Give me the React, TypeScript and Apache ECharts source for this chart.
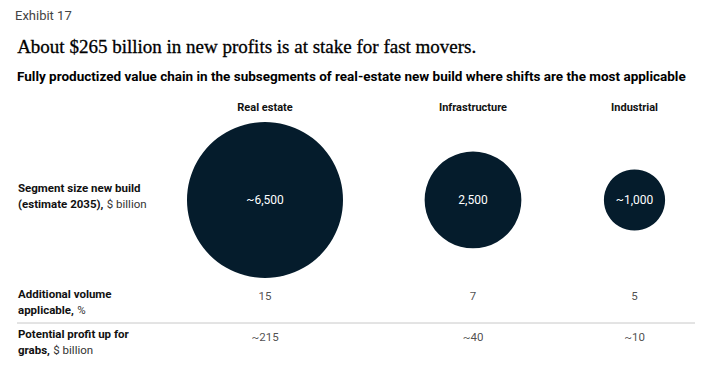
import React, { useEffect, useRef } from "react";
import * as echarts from "echarts";

const categories = ["Real estate", "Infrastructure", "Industrial"];
const segmentSize = [6500, 2500, 1000];
const segmentApprox = [true, false, true];
const additionalVolume = [15, 7, 5];
const potentialProfit = [215, 40, 10];
const profitApprox = [true, true, true];

const columnCenters = [265, 473, 645];
const NAVY = "#051C2C";
const FONT = "Roboto, 'Liberation Sans', Arial, sans-serif";
const R_MAX = 78;

const fmt = (v: number, approx: boolean) =>
  (approx ? "~" : "") + v.toLocaleString("en-US");

export default function App() {
  const ref = useRef<HTMLDivElement>(null);
  useEffect(() => {
    if (!ref.current) return;
    const chart = echarts.init(ref.current, null, { renderer: "svg" });
    const maxSize = Math.max(...segmentSize);
    const grids: any[] = [];
    const xAxes: any[] = [];
    const yAxes: any[] = [];
    const series: any[] = [];
    categories.forEach((cat, i) => {
      grids.push({ left: columnCenters[i] - 80, width: 160, top: 120, height: 160 });
      xAxes.push({
        gridIndex: i,
        type: "category",
        data: [cat],
        position: "top",
        axisLine: { show: false },
        axisTick: { show: false },
        splitLine: { show: false },
        axisLabel: { fontFamily: FONT, fontWeight: "bold", fontSize: 11, color: "#111", margin: 7 },
      });
      yAxes.push({ gridIndex: i, type: "category", data: ["size"], show: false });
      series.push({
        type: "scatter",
        xAxisIndex: i,
        yAxisIndex: i,
        symbol: "circle",
        data: [[0, 0, segmentSize[i]]],
        symbolSize: (val: number[]) => 2 * R_MAX * Math.sqrt(val[2] / maxSize),
        itemStyle: { color: NAVY, opacity: 1 },
        label: {
          show: true,
          position: "inside",
          formatter: () => fmt(segmentSize[i], segmentApprox[i]),
          color: "#fff",
          fontFamily: FONT,
          fontSize: 12,
        },
      });
      series.push({
        type: "scatter",
        xAxisIndex: i,
        yAxisIndex: i,
        symbol: "circle",
        symbolSize: 1,
        itemStyle: { color: "rgba(0,0,0,0)" },
        silent: true,
        data: [
          {
            value: [0, 0, additionalVolume[i]],
            label: { formatter: String(additionalVolume[i]), offset: [0, 96] },
          },
          {
            value: [0, 0, potentialProfit[i]],
            label: { formatter: fmt(potentialProfit[i], profitApprox[i]), offset: [0, 137] },
          },
        ],
        label: { show: true, position: "inside", color: "#222", fontFamily: FONT, fontSize: 11.5 },
      });
    });

    const rowLabel = (bold: string, boldTail: string, regular: string, y: number) => ({
      type: "text",
      left: 18,
      top: y,
      style: {
        text: `{b|${bold}}\n{b|${boldTail}} {r|${regular}}`,
        rich: {
          b: { fontFamily: FONT, fontWeight: "bold", fontSize: 11.5, fill: "#111", lineHeight: 16 },
          r: { fontFamily: FONT, fontSize: 11.5, fill: "#333", lineHeight: 16 },
        },
      },
    });

    chart.setOption({
      animation: false,
      grid: grids,
      xAxis: xAxes,
      yAxis: yAxes,
      series,
      graphic: [
        {
          type: "text",
          left: 15,
          top: 9,
          style: { text: "Exhibit 17", fontFamily: FONT, fontSize: 13, fill: "#444" },
        },
        {
          type: "text",
          left: 17,
          top: 37,
          style: {
            text: "About $265 billion in new profits is at stake for fast movers.",
            fontFamily: "'Liberation Serif', 'Times New Roman', serif",
            fontSize: 19,
            fill: "#000",
            stroke: "#000",
            lineWidth: 0.3,
          },
        },
        {
          type: "text",
          left: 17,
          top: 69,
          style: {
            text: "Fully productized value chain in the subsegments of real-estate new build where shifts are the most applicable",
            fontFamily: FONT,
            fontWeight: "bold",
            fontSize: 13.5,
            fill: "#000",
          },
        },
        rowLabel("Segment size new build", "(estimate 2035),", "$ billion", 182),
        rowLabel("Additional volume", "applicable,", "%", 288),
        rowLabel("Potential profit up for", "grabs,", "$ billion", 328),
        {
          type: "line",
          shape: { x1: 17, y1: 323, x2: 695, y2: 323 },
          style: { stroke: "#c8c8c8", lineWidth: 1 },
        },
      ],
    });
    return () => chart.dispose();
  }, []);
  return <div ref={ref} style={{ width: 704, height: 373, position: "absolute", left: 0, top: 0 }} />;
}
